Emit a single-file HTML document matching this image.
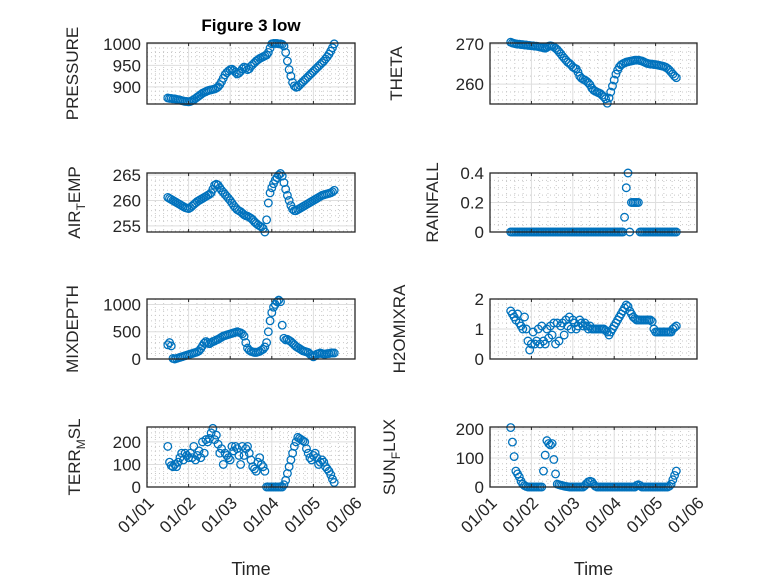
<!DOCTYPE html>
<html><head><meta charset="utf-8"><style>
body{margin:0;background:#fff}
svg{display:block;font-family:"Liberation Sans",sans-serif}
</style></head><body>
<svg id="fig" width="778" height="583" viewBox="0 0 778 583"></svg>
<script>
const pressure=[874,873,873,872,872,871,870,869,868,867,866,866,865,
866,868,870,873,876,879,882,885,887,889,891,892,
893,894,895,897,900,905,912,920,928,933,937,940,
941,938,934,930,932,936,942,946,944,940,942,948,
952,956,960,963,966,968,970,972,974,980,990,1000,
1001,1001,1001,1000,1000,999,995,980,960,940,925,910,
902,899,900,904,908,912,916,920,924,928,932,936,
940,944,948,952,956,960,965,970,976,983,991,1000];
const theta=[270.5,270.3,270.2,270.1,270,270,269.9,269.9,269.8,269.8,269.7,269.7,269.6,
269.6,269.5,269.5,269.4,269.3,269.2,269.1,269,269.2,269.5,269.6,269.5,
269.3,269,268.6,268.1,267.6,267,266.5,266,265.5,265.2,264.8,264.3,
264,263.8,263,262,261.5,261.2,261,260.7,260.3,259.8,259,258.5,
258.2,258,257.8,257.6,257.2,256.8,256.3,255.2,256.5,258,259.5,261,
262.5,263.5,264.3,264.8,265.1,265.3,265.5,265.6,265.7,265.8,265.9,266,
266,266,265.9,265.8,265.6,265.4,265.2,265.1,265,265,264.9,264.9,
264.8,264.7,264.6,264.5,264.4,264.2,263.9,263.5,263,262.5,262,261.6];
const airTemp=[260.6,260.4,260.2,260,259.8,259.6,259.4,259.2,259,258.8,258.6,258.5,258.4,
258.6,258.9,259.2,259.5,259.8,260,260.2,260.4,260.6,260.8,261,261.2,
261.5,262.2,263,263.2,263,262.5,262,261.6,261.2,260.8,260.4,260,
259.5,259,258.6,258.2,258,257.8,257.5,257.2,257,256.9,256.7,256.5,
256.2,255.8,255.5,255.2,255,254.8,254.5,253.8,256.2,259.5,261.5,262.5,
263.3,264,264.5,265,265.3,264.8,263.5,262.2,261,260,259,258.3,
258,258,258.2,258.4,258.6,258.8,259,259.2,259.4,259.6,259.8,260,
260.2,260.4,260.6,260.8,261,261.1,261.2,261.3,261.4,261.5,261.7,262];
const rainfall=[0,0,0,0,0,0,0,0,0,0,0,0,0,
0,0,0,0,0,0,0,0,0,0,0,0,
0,0,0,0,0,0,0,0,0,0,0,0,
0,0,0,0,0,0,0,0,0,0,0,0,
0,0,0,0,0,0,0,0,0,0,0,0,
0,0,0,0,0,0.1,0.3,0.4,0,0.2,0.2,0.2,
0.2,0.2,0,0,0,0,0,0,0,0,0,0,
0,0,0,0,0,0,0,0,0,0,0,0];
const mixDepth=[260,300,240,10,0,10,20,30,40,50,60,70,80,
90,100,110,120,130,150,190,240,290,320,300,280,
300,320,330,350,360,380,400,420,430,440,450,460,
470,480,490,500,490,480,460,420,300,200,160,140,
130,120,120,130,140,160,180,220,300,500,700,850,
950,1000,1050,1080,1050,620,380,350,360,340,320,290,
260,230,210,190,170,150,140,130,120,90,60,40,
60,90,100,110,100,90,90,100,100,110,110,110];
const h2o=[1.6,1.5,1.4,1.3,1.5,1.2,1.1,1.0,1.4,1.0,0.6,0.3,0.5,
0.9,0.5,0.6,1.0,0.5,1.1,0.6,0.5,1.0,0.7,1.1,0.8,
1.2,0.5,1.2,0.6,1.1,1.2,0.8,1.3,1.1,1.4,1.0,1.3,
1.2,1.0,1.1,1.3,1.2,1.1,1.2,1.1,1.0,1.1,1.0,1.0,
1.0,1.0,1.0,1.0,1.0,1.0,0.95,0.9,0.8,0.9,1.0,1.1,
1.2,1.3,1.4,1.5,1.6,1.7,1.8,1.75,1.6,1.5,1.4,1.35,
1.3,1.3,1.3,1.3,1.3,1.3,1.3,1.3,1.3,1.25,1.0,0.9,
0.9,0.9,0.9,0.9,0.9,0.9,0.9,0.9,0.9,1.0,1.05,1.1];
const terrMsl=[180,110,95,90,100,90,110,130,150,120,150,140,130,
150,130,180,120,140,160,130,200,150,210,200,215,
240,260,210,230,190,150,170,100,150,140,130,120,
180,160,180,170,140,100,180,140,170,180,150,120,
90,80,70,110,130,100,90,70,0,0,0,0,
0,0,0,0,0,0,10,30,60,90,120,150,
180,200,220,215,210,205,200,170,150,130,120,140,
150,130,100,110,120,110,90,80,70,55,35,20];
const sunFlux=[205,155,105,55,45,35,20,10,5,2,0,0,0,
0,0,0,0,0,0,55,110,160,150,145,150,
95,45,10,8,6,5,3,2,1,0,0,0,
0,0,0,0,0,0,5,12,18,20,18,10,
3,0,0,0,0,0,0,0,0,0,0,0,
0,0,0,0,0,0,0,0,0,0,0,0,
5,8,5,0,0,0,0,0,0,0,0,0,
0,0,0,0,0,0,0,3,10,25,40,55];
const xTickLabels=["01/01","01/02","01/03","01/04","01/05","01/06"];
const startDay=0.5, stepDay=1/24;

const NS="http://www.w3.org/2000/svg";
const svg=document.getElementById('fig');
function mk(tag,attrs,parent){const e=document.createElementNS(NS,tag);for(const k in attrs)e.setAttribute(k,attrs[k]);(parent||svg).appendChild(e);return e;}

const panels=[
 {name:'pressure',data:pressure,x0:147,x1:355,y0:43,y1:104,ymin:860,ymax:1002,ticks:[900,950,1000],labs:['900','950','1000'],minor:10,label:['PRESSURE'],lx:78},
 {name:'theta',data:theta,x0:490,x1:697,y0:43,y1:104,ymin:255,ymax:270.3,ticks:[260,270],labs:['260','270'],minor:2,label:['THETA'],lx:402},
 {name:'air-temp',data:airTemp,x0:147,x1:355,y0:173,y1:232,ymin:253.8,ymax:265.4,ticks:[255,260,265],labs:['255','260','265'],minor:1,label:['AIR','T','EMP'],lx:80},
 {name:'rainfall',data:rainfall,x0:490,x1:697,y0:173,y1:232,ymin:0,ymax:0.4,ticks:[0,0.2,0.4],labs:['0','0.2','0.4'],minor:0.05,label:['RAINFALL'],lx:438},
 {name:'mixdepth',data:mixDepth,x0:147,x1:355,y0:299,y1:359,ymin:0,ymax:1100,ticks:[0,500,1000],labs:['0','500','1000'],minor:100,label:['MIXDEPTH'],lx:78},
 {name:'h2omixra',data:h2o,x0:490,x1:697,y0:299,y1:359,ymin:0,ymax:2,ticks:[0,1,2],labs:['0','1','2'],minor:0.2,label:['H2OMIXRA'],lx:405},
 {name:'terr-msl',data:terrMsl,x0:147,x1:355,y0:427,y1:487,ymin:0,ymax:266,ticks:[0,100,200],labs:['0','100','200'],minor:20,label:['TERR','M','SL'],lx:80},
 {name:'sun-flux',data:sunFlux,x0:490,x1:697,y0:427,y1:487,ymin:0,ymax:207,ticks:[0,100,200],labs:['0','100','200'],minor:20,label:['SUN','F','LUX'],lx:395}
];
const ink='#262626';
panels.forEach((p,pi)=>{
 const g=mk('g',{});
 
 
 const xs=d=>p.x0+(p.x1-p.x0)*d/5;
 const ys=v=>p.y1-(p.y1-p.y0)*(v-p.ymin)/(p.ymax-p.ymin);
 for(let d=0;d<5;d+=0.2){if(Math.abs(d-Math.round(d))<1e-6)continue;
  mk('line',{x1:xs(d),x2:xs(d),y1:p.y0,y2:p.y1,stroke:'#c8c8c8','stroke-width':1,'stroke-dasharray':'1,3'},g);}
 for(let v=Math.ceil(p.ymin/p.minor)*p.minor;v<p.ymax;v+=p.minor){
  if(p.ticks.some(t=>Math.abs(t-v)<1e-6))continue;
  mk('line',{x1:p.x0,x2:p.x1,y1:ys(v),y2:ys(v),stroke:'#c8c8c8','stroke-width':1,'stroke-dasharray':'1,3'},g);}
 for(let d=1;d<5;d++)mk('line',{x1:xs(d),x2:xs(d),y1:p.y0,y2:p.y1,stroke:'#dedede','stroke-width':1},g);
 p.ticks.forEach(t=>mk('line',{x1:p.x0,x2:p.x1,y1:ys(t),y2:ys(t),stroke:'#dedede','stroke-width':1},g));
 p.data.forEach((v,i)=>{
  const c=mk('circle',{cx:xs(startDay+i*stepDay),cy:ys(v),r:3.8,fill:'none',stroke:'#0072BD','stroke-width':1.3},g);
  
  
 });
 mk('rect',{x:p.x0,y:p.y0,width:p.x1-p.x0,height:p.y1-p.y0,fill:'none',stroke:ink,'stroke-width':1.3},g);
 for(let d=1;d<5;d++){mk('line',{x1:xs(d),x2:xs(d),y1:p.y1,y2:p.y1-3,stroke:ink},g);mk('line',{x1:xs(d),x2:xs(d),y1:p.y0,y2:p.y0+3,stroke:ink},g);}
 p.ticks.forEach((t,k)=>{
  const tx=mk('text',{x:p.x0-6,y:ys(t)+6,'text-anchor':'end','font-size':17,fill:ink},g);
  tx.textContent=p.labs[k];
  
  
 });
 const cy=(p.y0+p.y1)/2;
 const yl=mk('text',{transform:`translate(${p.lx},${cy}) rotate(-90)`,'text-anchor':'middle','font-size':17,fill:ink},g);
 
 
 if(p.label.length===1)yl.textContent=p.label[0];
 else{
  const a=mk('tspan',{},yl);a.textContent=p.label[0];
  const b=mk('tspan',{dy:5,'font-size':12},yl);b.textContent=p.label[1];
  const c=mk('tspan',{dy:-5},yl);c.textContent=p.label[2];
 }
 if(pi>=6){
  xTickLabels.forEach((l,d)=>{
   const t=mk('text',{transform:`translate(${xs(d)+8},${p.y1+17}) rotate(-45)`,'text-anchor':'end','font-size':17,fill:ink},g);
   t.textContent=l;
   
   
  });
  const xl=mk('text',{x:(p.x0+p.x1)/2,y:575,'text-anchor':'middle','font-size':18,fill:ink},g);
  xl.textContent='Time';
  
  
 }
});
const title=mk('text',{x:251,y:31,'text-anchor':'middle','font-size':17,'font-weight':'bold',fill:'#000'});
title.textContent='Figure 3 low';


</script>
</body></html>
